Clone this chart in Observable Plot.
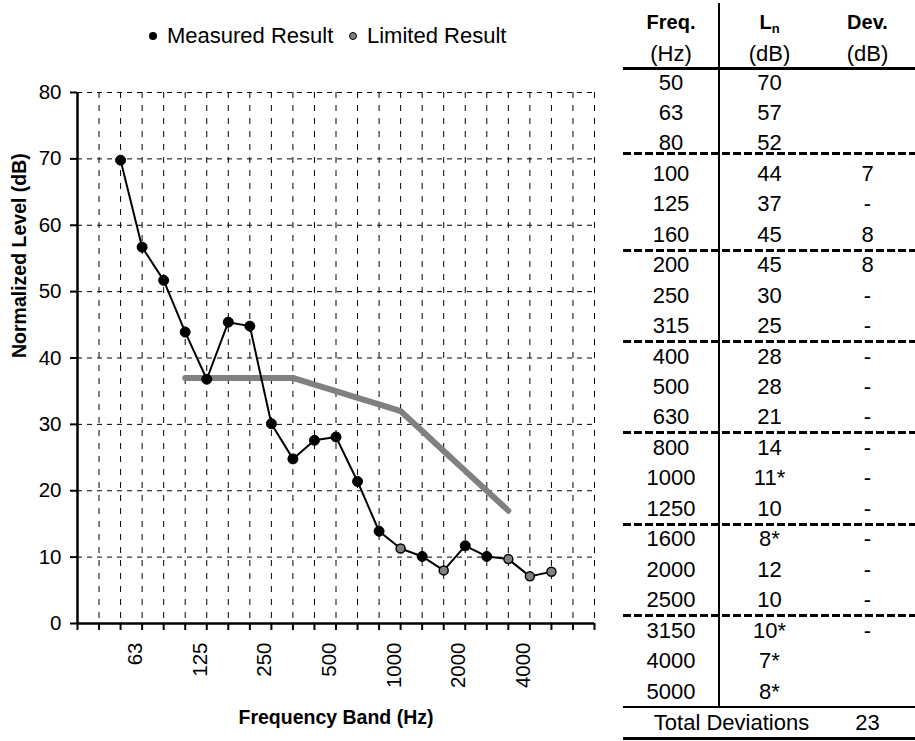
<!DOCTYPE html>
<html><head><meta charset="utf-8">
<script src="https://cdn.jsdelivr.net/npm/d3@7"></script>
<script src="https://cdn.jsdelivr.net/npm/@observablehq/plot@0.6"></script>
<style>
body{margin:0;background:#fff;font-family:"Liberation Sans",Arial,sans-serif;color:#000;}
#root{position:relative;width:915px;height:741px;overflow:hidden;background:#fff;}
#legend{position:absolute;left:0;top:0;width:610px;height:60px;font-size:22px;}
#legend .dot{position:absolute;width:8px;height:8px;border-radius:50%;box-sizing:border-box;}
#legend .txt{position:absolute;line-height:24px;white-space:nowrap;}
#chart{position:absolute;left:0;top:60px;}
#table{position:absolute;left:0;top:0;width:915px;height:741px;font-size:22px;}
#table .cell{position:absolute;text-align:center;white-space:nowrap;}
#table .hl{position:absolute;background:#000;}
#table .dash{position:absolute;height:3px;background:repeating-linear-gradient(90deg,#000 0 8px,transparent 8px 11px);}
</style></head>
<body><div id="root"><div id="legend"></div><div id="chart"></div><div id="table"></div></div>
<script>
// ---- data ----
const freqs = ["50","63","80","100","125","160","200","250","315","400","500","630","800","1000","1250","1600","2000","2500","3150","4000","5000"];
const measured = [69.8,56.7,51.7,43.9,36.8,45.4,44.8,30.1,24.8,27.6,28.1,21.4,13.9,11.3,10.1,8.0,11.7,10.1,9.7,7.1,7.8];
const limitedFlags = [false,false,false,false,false,false,false,false,false,false,false,false,false,true,false,true,false,false,true,true,true];
const refFreqs = ["100","125","160","200","250","315","400","500","630","800","1000","1250","1600","2000","2500","3150"];
const refCurve = [37,37,37,37,37,37,36,35,34,33,32,29,26,23,20,17];
const axisLabels = ["63","125","250","500","1000","2000","4000"];
const yTicks = [0,10,20,30,40,50,60,70,80];
const legendLabels = ["Measured Result","Limited Result"];
const tableHeader1 = ["Freq.","L","Dev."];
const tableHeader2 = ["(Hz)","(dB)","(dB)"];
const tableLn = ["70","57","52","44","37","45","45","30","25","28","28","21","14","11*","10","8*","12","10","10*","7*","8*"];
const tableDev = ["","","","7","-","8","8","-","-","-","-","-","-","-","-","-","-","-","-","",""];
const totalLabel = "Total Deviations";
const totalDev = "23";

const FONT = '"Liberation Sans", Arial, sans-serif';
const lead = 2; // empty slots before first band
const nSlots = freqs.length + 2*lead - 1;
const data = freqs.map((f,i)=>({slot:i+lead, f, v:measured[i], lim:limitedFlags[i]}));
const refData = refFreqs.map((f,i)=>({slot:freqs.indexOf(f)+lead, v:refCurve[i]}));
const labelData = axisLabels.map(l=>({slot:freqs.indexOf(l)+lead, label:l}));

const chart = Plot.plot({
  width: 610, height: 681,
  marginTop: 32, marginBottom: 118, marginLeft: 77, marginRight: 16,
  x: {domain:[0, nSlots]},
  y: {domain:[0, 80]},
  style: {fontFamily: FONT, fontSize: "20.5px", color: "#000", background: "#fff", overflow: "visible"},
  marks: [
    Plot.ruleY(yTicks.filter(d=>d>0), {stroke:"#000", strokeWidth:1, strokeDasharray:"5,5"}),
    Plot.ruleX(d3.range(1, nSlots+1), {stroke:"#000", strokeWidth:1, strokeDasharray:"6,7"}),
    Plot.axisY(yTicks, {tickSize:7, tickPadding:9, fontSize:20.5, label:null, strokeWidth:2}),
    Plot.axisX(d3.range(0, nSlots+1), {tickSize:7, tickFormat:()=>"", label:null, strokeWidth:2}),
    Plot.ruleX([0], {stroke:"#000", strokeWidth:2.5}),
    Plot.ruleY([0], {stroke:"#000", strokeWidth:2.5}),
    Plot.line(refData, {x:"slot", y:"v", stroke:"#808080", strokeWidth:6, strokeLinecap:"round", strokeLinejoin:"round"}),
    Plot.line(data, {x:"slot", y:"v", stroke:"#000", strokeWidth:2}),
    Plot.dot(data.filter(d=>!d.lim), {x:"slot", y:"v", r:5, fill:"#000", stroke:"#000", strokeWidth:1}),
    Plot.dot(data.filter(d=>d.lim), {x:"slot", y:"v", r:4.5, fill:"#808080", stroke:"#000", strokeWidth:1.5}),
    Plot.text(labelData, {x:"slot", text:"label", frameAnchor:"bottom", rotate:-90, textAnchor:"end", dy:19, fontSize:20.5}),
    Plot.text(["Normalized Level (dB)"], {frameAnchor:"left", rotate:-90, dx:-58, fontWeight:"bold", fontSize:19.5}),
    Plot.text(["Frequency Band (Hz)"], {frameAnchor:"bottom", dy:100, fontWeight:"bold", fontSize:19.5})
  ]
});
document.getElementById("chart").appendChild(chart);

// ---- legend ----
const lg = document.getElementById("legend");
const legendItems = [
  {dotLeft:149, textLeft:167, fill:"#000", border:"none"},
  {dotLeft:349, textLeft:367, fill:"#808080", border:"1.5px solid #000"}
];
legendLabels.forEach((t,i)=>{
  const it = legendItems[i];
  const d = document.createElement("div"); d.className="dot";
  d.style.left=it.dotLeft+"px"; d.style.top="32px"; d.style.background=it.fill; d.style.border=it.border;
  lg.appendChild(d);
  const s = document.createElement("div"); s.className="txt";
  s.style.left=it.textLeft+"px"; s.style.top="24px"; s.textContent=t;
  lg.appendChild(s);
});

// ---- table ----
const tb = document.getElementById("table");
const cols = [623, 719, 820, 915];
const rowTop = 67.5, rowH = 30.45;
function cell(txt, x0, x1, yc, h, extra){
  const c = document.createElement("div"); c.className="cell";
  c.style.left=x0+"px"; c.style.width=(x1-x0)+"px";
  c.style.top=(yc-h/2)+"px"; c.style.height=h+"px"; c.style.lineHeight=h+"px";
  if (extra) Object.assign(c.style, extra);
  c.innerHTML = txt; tb.appendChild(c); return c;
}
function hline(x0,x1,y,w){const l=document.createElement("div");l.className="hl";l.style.left=x0+"px";l.style.width=(x1-x0)+"px";l.style.top=(y-w/2)+"px";l.style.height=w+"px";tb.appendChild(l);}
function vline(x,y0,y1,w){const l=document.createElement("div");l.className="hl";l.style.left=(x-w/2)+"px";l.style.width=w+"px";l.style.top=y0+"px";l.style.height=(y1-y0)+"px";tb.appendChild(l);}
function dline(x0,x1,y){const l=document.createElement("div");l.className="dash";l.style.left=x0+"px";l.style.width=(x1-x0)+"px";l.style.top=(y-1.5)+"px";tb.appendChild(l);}

tableHeader1.forEach((t,j)=>{
  const txt = j===1 ? 'L<sub style="font-size:13px;vertical-align:-4px">n</sub>' : t;
  cell(txt, cols[j], cols[j+1], 21.7, 30, {fontWeight:"bold", fontSize:"20px"});
});
tableHeader2.forEach((t,j)=> cell(t, cols[j], cols[j+1], 54.3, 30));
freqs.forEach((f,i)=>{
  const yc = rowTop + rowH*(i+0.5);
  cell(f, cols[0], cols[1], yc, rowH);
  cell(tableLn[i], cols[1], cols[2], yc, rowH);
  cell(tableDev[i], cols[2], cols[3], yc, rowH);
  if (i%3===2 && i<freqs.length-1) dline(cols[0], cols[3], rowTop+rowH*(i+1) - (i===2 ? 5 : 0));
});
const tableBottom = rowTop + rowH*freqs.length;
hline(cols[0], cols[3], 68.3, 2.5);
vline(cols[1], 3, tableBottom, 2.5);
hline(cols[0], cols[3], tableBottom, 2.5);
cell(totalLabel, cols[0]+20, cols[2], tableBottom+16, 30);
cell(totalDev, cols[2], cols[3], tableBottom+16, 30);
hline(cols[0], cols[3], 738.3, 2.5);
</script></body></html>
